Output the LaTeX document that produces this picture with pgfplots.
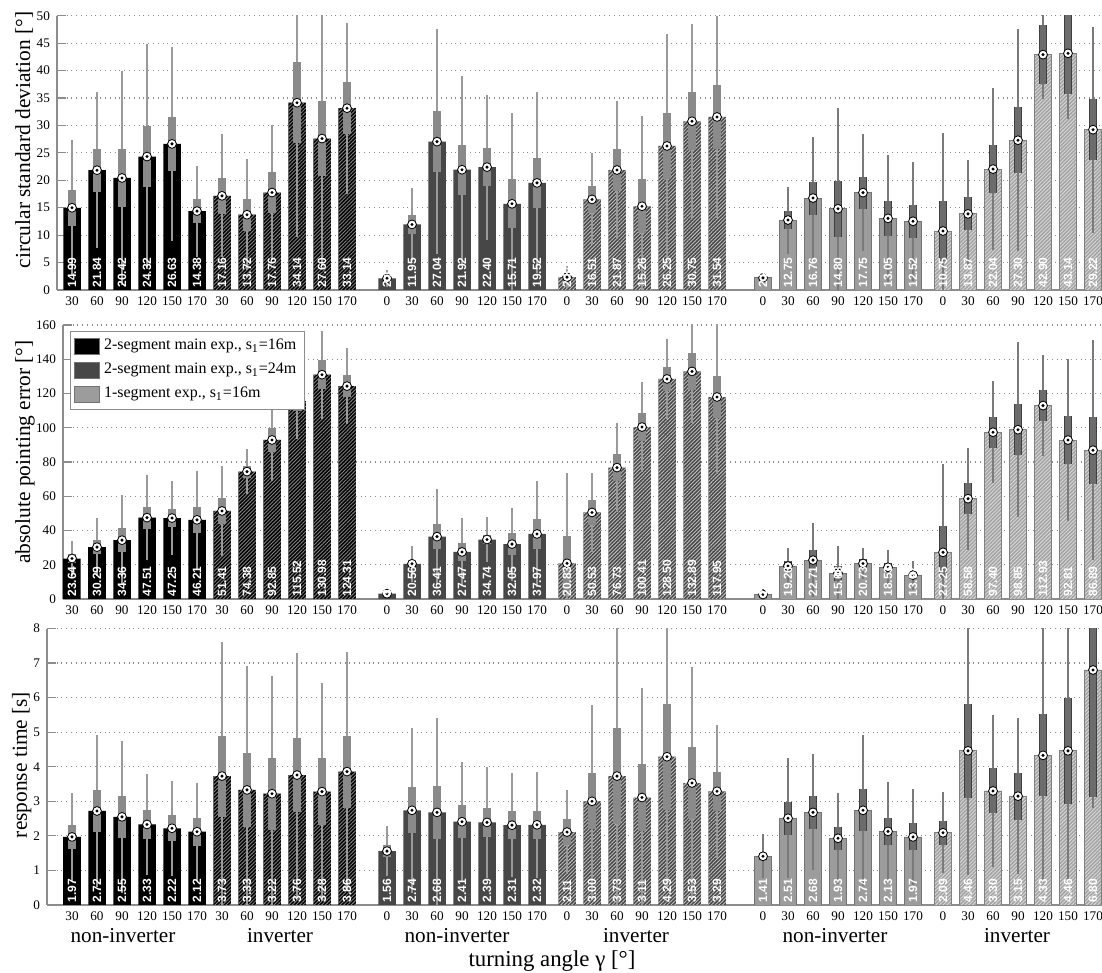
\documentclass[border=0pt]{standalone}
\usepackage{fontspec}
\setmainfont{Liberation Serif}
\setsansfont{Liberation Sans}
\usepackage{pgfplots}
\usepackage{pgfplotstable}
\pgfplotsset{compat=1.18}
\usetikzlibrary{patterns.meta}

\definecolor{dkg}{HTML}{474747}
\definecolor{ltg}{HTML}{9C9C9C}
\definecolor{lth}{HTML}{A2A2A2}
\definecolor{wsk}{HTML}{9A9A9A}
\definecolor{bx}{HTML}{8A8A8A}
\definecolor{wskl}{HTML}{7A7A7A}
\definecolor{bxl}{HTML}{6C6C6C}
\definecolor{axgray}{HTML}{8C8C8C}

\newcommand\tickfont{\fontsize{6.6}{7}\selectfont}
\newcommand\valfont{\sffamily\bfseries\fontsize{6}{7}\selectfont}
\newcommand\labfont{\fontsize{10.7}{12}\selectfont}
\newcommand\grpfont{\fontsize{10.6}{12}\selectfont}

% white disc with a black centre dot for the means
\pgfdeclareplotmark{meandot}{%
  \pgfpathcircle{\pgfpointorigin}{\pgfplotmarksize}\pgfusepathqfillstroke
  \begin{pgfscope}%
  \pgfsetfillcolor{black}%
  \pgfpathcircle{\pgfpointorigin}{0.38\pgfplotmarksize}\pgfusepathqfill
  \end{pgfscope}}

% columns: position, mean, box half-height, whisker half-height
% ---------- circular standard deviation ----------
\pgfplotstableread{
x m ci sd
0 14.99 3.3 12.3
1 21.84 3.9 14.2
2 20.42 5.3 19.5
3 24.32 5.6 20.5
4 26.63 4.9 17.7
5 14.38 2.2 8.3
}\csdA
\pgfplotstableread{
x m ci sd
6 17.16 3.3 11.2
7 13.72 2.9 10.1
8 17.76 3.7 12.3
9 34.14 7.4 24.4
10 27.60 6.8 23.0
11 33.14 4.7 15.6
}\csdB
\pgfplotstableread{
x m ci sd
12.6 2.13 0.5 1.6
13.6 11.95 1.7 6.6
14.6 27.04 5.6 20.5
15.6 21.92 4.6 17.1
16.6 22.40 3.5 13.2
17.6 15.71 4.5 16.5
18.6 19.52 4.5 16.5
}\csdC
\pgfplotstableread{
x m ci sd
19.8 2.34 0.6 2.0
20.8 16.51 2.5 8.4
21.8 21.87 3.8 12.6
22.8 15.26 4.9 16.4
23.8 26.25 6.1 20.4
24.8 30.75 5.3 17.7
25.8 31.54 5.8 18.4
}\csdD
\pgfplotstableread{
x m ci sd
27.64 2.21 0.3 0.8
28.64 12.75 1.6 6.1
29.64 16.76 3.0 11.1
30.64 14.80 5.1 18.3
31.64 17.75 2.9 10.6
32.64 13.05 3.2 11.6
33.64 12.52 3.0 10.8
}\csdE
\pgfplotstableread{
x m ci sd
34.84 10.75 5.4 17.8
35.84 13.87 3.0 9.8
36.84 22.04 4.4 14.8
37.84 27.30 6.0 20.2
38.84 42.90 5.4 8.0
39.84 43.14 7.4 12.0
40.84 29.22 5.6 18.8
}\csdF
% ---------- absolute pointing error ----------
\pgfplotstableread{
x m ci sd
0 23.64 2.5 10.4
1 30.29 4.2 16.8
2 34.36 6.9 26.4
3 47.51 6.4 24.9
4 47.25 5.3 21.6
5 46.21 7.7 28.5
}\apeA
\pgfplotstableread{
x m ci sd
6 51.41 7.8 26.5
7 74.38 3.5 13.2
8 92.85 6.8 24.0
9 115.52 6.0 22.0
10 130.98 8.6 25.8
11 124.31 6.5 22.1
}\apeB
\pgfplotstableread{
x m ci sd
12.6 3.08 0.8 2.2
13.6 20.56 1.2 10.5
14.6 36.41 7.2 27.8
15.6 27.47 5.0 19.6
16.6 34.74 2.5 13.0
17.6 32.05 6.3 21.3
18.6 37.97 8.5 31.0
}\apeC
\pgfplotstableread{
x m ci sd
19.8 20.83 16.0 53.0
20.8 50.53 7.3 22.9
21.8 76.73 7.9 25.9
22.8 100.41 8.0 26.5
23.8 128.50 7.2 23.3
24.8 132.89 10.6 30.0
25.8 117.95 12.5 45.0
}\apeD
\pgfplotstableread{
x m ci sd
27.64 2.61 0.7 3.0
28.64 19.26 3.0 10.3
29.64 22.71 5.8 21.4
30.64 15.03 4.3 16.1
31.64 20.73 2.4 8.8
32.64 18.53 2.7 10.1
33.64 13.97 2.0 8.5
}\apeE
\pgfplotstableread{
x m ci sd
34.84 27.25 15.2 51.4
35.84 58.58 9.0 29.8
36.84 97.40 9.1 29.9
37.84 98.85 15.0 51.0
38.84 112.93 9.1 29.6
39.84 92.81 14.1 47.3
40.84 86.89 19.6 64.3
}\apeF
% ---------- response time ----------
\pgfplotstableread{
x m ci sd
0 1.97 0.34 1.28
1 2.72 0.62 2.21
2 2.55 0.61 2.19
3 2.33 0.42 1.45
4 2.22 0.38 1.37
5 2.12 0.41 1.42
}\rtA
\pgfplotstableread{
x m ci sd
6 3.73 1.17 3.87
7 3.33 1.08 3.59
8 3.22 1.04 3.40
9 3.76 1.06 3.54
10 3.28 0.96 3.15
11 3.86 1.04 3.45
}\rtB
\pgfplotstableread{
x m ci sd
12.6 1.56 0.17 0.73
13.6 2.74 0.66 2.39
14.6 2.68 0.76 2.72
15.6 2.41 0.48 1.73
16.6 2.39 0.43 1.61
17.6 2.31 0.41 1.50
18.6 2.32 0.41 1.54
}\rtC
\pgfplotstableread{
x m ci sd
19.8 2.11 0.37 1.22
20.8 3.00 0.81 2.78
21.8 3.73 1.38 4.30
22.8 3.11 0.96 3.17
23.8 4.29 1.53 3.75
24.8 3.53 1.03 3.37
25.8 3.29 0.57 1.93
}\rtD
\pgfplotstableread{
x m ci sd
27.64 1.41 0.10 0.63
28.64 2.51 0.48 1.73
29.64 2.68 0.47 1.68
30.64 1.93 0.34 1.32
31.64 2.74 0.61 2.19
32.64 2.13 0.40 1.42
33.64 1.97 0.39 1.40
}\rtE
\pgfplotstableread{
x m ci sd
34.84 2.09 0.35 1.17
35.84 4.46 1.35 3.60
36.84 3.30 0.65 2.19
37.84 3.15 0.68 2.25
38.84 4.33 1.19 3.70
39.84 4.46 1.54 3.70
40.84 6.80 3.67 4.00
}\rtF

\pgfplotsset{
  hatch/.style={postaction={pattern={Lines[angle=45,distance=1.3pt,line width=0.45pt]},pattern color=#1}},
  barA/.style={fill=black, draw=none},
  barB/.style={fill=black, draw=none, hatch=black!50},
  barC/.style={fill=dkg, draw=none},
  barD/.style={fill=dkg, draw=none, hatch=black!25},
  barE/.style={fill=ltg, draw=black!55, line width=0.4pt},
  barF/.style={fill=lth, draw=black!50, line width=0.4pt, hatch=black!15},
  panel/.style={
    scale only axis, anchor=south west, xmax=41.2,
    enlargelimits=false, clip mode=individual,
    axis x line*=bottom, axis y line*=left,
    axis line style={axgray, line width=0.6pt},
    tick align=inside, major tick length=4.5pt,
    ytick style={axgray, line width=0.6pt},
    xtick style={draw=none},
    ymajorgrids, grid style={dotted, black!45, line width=0.6pt},
    xtick={0,1,2,3,4,5,6,7,8,9,10,11,12.6,13.6,14.6,15.6,16.6,17.6,18.6,19.8,20.8,21.8,22.8,23.8,24.8,25.8,27.64,28.64,29.64,30.64,31.64,32.64,33.64,34.84,35.84,36.84,37.84,38.84,39.84,40.84},
    xticklabels={30,60,90,120,150,170,30,60,90,120,150,170,0,30,60,90,120,150,170,0,30,60,90,120,150,170,0,30,60,90,120,150,170,0,30,60,90,120,150,170},
    ticklabel style={font=\tickfont},
    /pgf/number format/assume math mode=true,
  },
}

% one group: bars, whiskers, boxes, means and value labels
\newcommand{\drawgroup}[5]{%
  \addplot[forget plot, ybar, bar width=0.7, #2] table[x=x, y=m] {#1};
  \addplot[forget plot, only marks, mark=none, error bars/.cd, y dir=both, y explicit, error mark=none,
    error bar style={line width=1.2pt, color=#3}] table[x=x, y=m, y error=sd] {#1};
  \addplot[forget plot, only marks, mark=none, error bars/.cd, y dir=both, y explicit, error mark=none,
    error bar style={line width=4.2pt, color=#5}] table[x=x, y=m, y error=ci] {#1};
  \addplot[forget plot, only marks, mark=none, error bars/.cd, y dir=both, y explicit, error mark=none,
    error bar style={line width=3.4pt, color=#4}] table[x=x, y=m, y error=ci] {#1};
  \addplot[forget plot, only marks, mark=meandot, mark size=2.2pt,
    mark options={fill=white, draw=black, line width=0.4pt}] table[x=x, y=m] {#1};
  \addplot[forget plot, only marks, mark=none, point meta=explicit symbolic,
    nodes near coords={\pgfplotspointmeta},
    every node near coord/.append style={rotate=90, anchor=west, text=white, font=\valfont, inner sep=1pt}]
    table[x=x, y expr=0, meta=m] {#1};
}
\newcommand{\drawall}[6]{%
  \drawgroup{#1}{barA}{wsk}{bx}{bx}
  \drawgroup{#2}{barB}{wsk}{bx}{bx}
  \drawgroup{#3}{barC}{wsk}{bx}{bx}
  \drawgroup{#4}{barD}{wsk}{bx}{bx}
  \drawgroup{#5}{barE}{wskl}{bxl}{black!75}
  \drawgroup{#6}{barF}{wskl}{bxl}{black!75}
}

\begin{document}
\begin{tikzpicture}
\useasboundingbox (0,0) rectangle (551pt,486.5pt);

\begin{axis}[panel, at={(28.5pt,341.5pt)}, width=522.5pt, height=137.15pt,
  xmin=-0.6, ymin=0, ymax=50, ytick={0,5,...,50}]
  \drawall{\csdA}{\csdB}{\csdC}{\csdD}{\csdE}{\csdF}
\end{axis}

\begin{axis}[panel, at={(31.5pt,187pt)}, width=519.5pt, height=137pt,
  xmin=-0.36, ymin=0, ymax=160, ytick={0,20,...,160},
  legend style={at={(0,1)}, anchor=north west, xshift=3.5pt, yshift=-3pt,
    draw=axgray, fill=white, font=\fontsize{8}{9}\selectfont,
    row sep=1.2pt, inner sep=2pt, cells={anchor=west}},
  legend image code/.code={\filldraw[#1, draw=black!55, line width=0.3pt] (0pt,-4pt) rectangle (12.5pt,4pt);}]
  \addlegendimage{fill=black}
  \addlegendentry{2-segment main exp., s\textsubscript{1}=16m}
  \addlegendimage{fill=dkg}
  \addlegendentry{2-segment main exp., s\textsubscript{1}=24m}
  \addlegendimage{fill=ltg}
  \addlegendentry{1-segment exp., s\textsubscript{1}=16m}
  \drawall{\apeA}{\apeB}{\apeC}{\apeD}{\apeE}{\apeF}
\end{axis}

\begin{axis}[panel, at={(23.5pt,34pt)}, width=527.5pt, height=138.25pt,
  xmin=-1, ymin=0, ymax=8, ytick={0,1,...,8}]
  \drawall{\rtA}{\rtB}{\rtC}{\rtD}{\rtE}{\rtF}
  \node[anchor=base, font=\grpfont, yshift=-19pt] at (axis cs:2.04,0) {non-inverter};
  \node[anchor=base, font=\grpfont, yshift=-19pt] at (axis cs:8.32,0) {inverter};
  \node[anchor=base, font=\grpfont, yshift=-19pt] at (axis cs:15.4,0) {non-inverter};
  \node[anchor=base, font=\grpfont, yshift=-19pt] at (axis cs:22.56,0) {inverter};
  \node[anchor=base, font=\grpfont, yshift=-19pt] at (axis cs:30.52,0) {non-inverter};
  \node[anchor=base, font=\grpfont, yshift=-19pt] at (axis cs:37.8,0) {inverter};
\end{axis}

\node[rotate=90, anchor=base, font=\labfont] at (15pt,416.5pt) {circular standard deviation [°]};
\node[rotate=90, anchor=base, font=\labfont] at (15pt,260.5pt) {absolute pointing error [°]};
\node[rotate=90, anchor=base, font=\labfont] at (13.5pt,104pt) {response time [s]};
\node[anchor=base, font=\fontsize{11.4}{13}\selectfont] at (276pt,3pt) {turning angle γ [°]};
\end{tikzpicture}
\end{document}
